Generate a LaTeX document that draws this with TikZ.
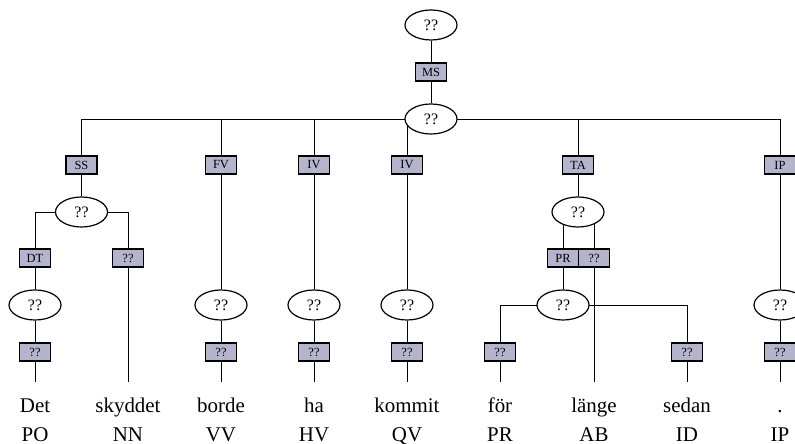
\documentclass[tikz,border=0pt]{standalone}
\usepackage{fontspec}
\setmainfont{Liberation Serif}
\usetikzlibrary{shapes.geometric,backgrounds}
\definecolor{boxfill}{RGB}{180,180,204}
\tikzset{
 ell/.style={ellipse, draw, fill=white, line width=1.2bp, minimum width=52bp, minimum height=30bp, inner sep=0pt, font=\fontsize{16}{19}\selectfont},
 lab/.style={rectangle, draw, fill=boxfill, line width=1.2bp, minimum width=31bp, minimum height=18bp, inner sep=0pt, font=\fontsize{12.5}{15}\selectfont},
 word/.style={anchor=base, inner sep=0pt, font=\fontsize{21}{25}\selectfont},
 edge/.style={line width=1.3bp}
}
\begin{document}
\begin{tikzpicture}[x=1bp,y=-1bp]
\useasboundingbox (0,0) rectangle (795,444);
\clip (0,0) rectangle (795,444);
% top
\node[ell] (top) at (431,25) {??};
\node[lab] (ms) at (431,72) {MS};
\node[ell] (root) at (431,119) {??};
% first level labels
\node[lab] (ss) at (81.5,165) {SS};
\node[lab] (fv) at (221,165) {FV};
\node[lab] (iv1) at (314,165) {IV};
\node[lab] (iv2) at (407,165) {IV};
\node[lab] (ta) at (578,165) {TA};
\node[lab] (ip) at (780,165) {IP};
% SS subtree
\node[ell] (sse) at (81.5,212) {??};
\node[lab] (dt) at (35,258) {DT};
\node[lab] (nnb) at (128,258) {??};
\node[ell] (dte) at (35,305) {??};
\node[lab] (dtb) at (35,352) {??};
% verbs
\node[ell] (fve) at (221,305) {??};
\node[lab] (fvb) at (221,352) {??};
\node[ell] (iv1e) at (314,305) {??};
\node[lab] (iv1b) at (314,352) {??};
\node[ell] (iv2e) at (407,305) {??};
\node[lab] (iv2b) at (407,352) {??};
% TA subtree
\node[ell] (tae) at (578,212) {??};
\node[lab] (pr) at (563,258) {PR};
\node[lab] (tab) at (594,258) {??};
\node[ell] (pre) at (563,305) {??};
\node[lab] (forb) at (500,352) {??};
\node[lab] (sedb) at (687,352) {??};
% IP
\node[ell] (ipe) at (780,305) {??};
\node[lab] (ipb) at (780,352) {??};
% words
\node[word] (w1) at (35,412) {Det};
\node[word] (w2) at (128,412) {skyddet};
\node[word] (w3) at (221,412) {borde};
\node[word] (w4) at (314,412) {ha};
\node[word] (w5) at (407,412) {kommit};
\node[word] (w6) at (500,412) {för};
\node[word] (w7) at (594,412) {länge};
\node[word] (w8) at (687,412) {sedan};
\node[word] (w9) at (780,412) {.};
\node[word] (t1) at (35,441) {PO};
\node[word] (t2) at (128,441) {NN};
\node[word] (t3) at (221,441) {VV};
\node[word] (t4) at (314,441) {HV};
\node[word] (t5) at (407,441) {QV};
\node[word] (t6) at (500,441) {PR};
\node[word] (t7) at (594,441) {AB};
\node[word] (t8) at (687,441) {ID};
\node[word] (t9) at (780,441) {IP};
% line ends above words
\foreach \i/\x in {1/35,2/128,3/221,4/314,5/407,6/500,7/594,8/687,9/780}
  \coordinate (e\i) at (\x,382);
\begin{scope}[on background layer, edge]
\draw (top) -- (ms) -- (root);
\draw (ss.center) |- (root.center);
\draw (ip.center) |- (root.center);
\draw (fv.center) |- (root.center);
\draw (iv1.center) |- (root.center);
\draw (iv2.center) |- (root.center);
\draw (ta.center) |- (root.center);
% SS
\draw (ss) -- (sse);
\draw (dt.center) |- (sse.center);
\draw (nnb.center) |- (sse.center);
\draw (dt) -- (dte) -- (dtb) -- (e1);
\draw (nnb) -- (e2);
% verbs
\draw (fv) -- (fve) -- (fvb) -- (e3);
\draw (iv1) -- (iv1e) -- (iv1b) -- (e4);
\draw (iv2) -- (iv2e) -- (iv2b) -- (e5);
% TA
\draw (ta) -- (tae);
\draw (pr.center) -- (pr.center |- tae.center);
\draw (tab.center) -- (tab.center |- tae.center);
\draw (pr) -- (pre);
\draw (tab) -- (e7);
\draw (forb.center) |- (pre.center);
\draw (sedb.center) |- (pre.center);
\draw (forb) -- (e6);
\draw (sedb) -- (e8);
% IP
\draw (ip) -- (ipe) -- (ipb) -- (e9);
\end{scope}
\end{tikzpicture}
\end{document}
